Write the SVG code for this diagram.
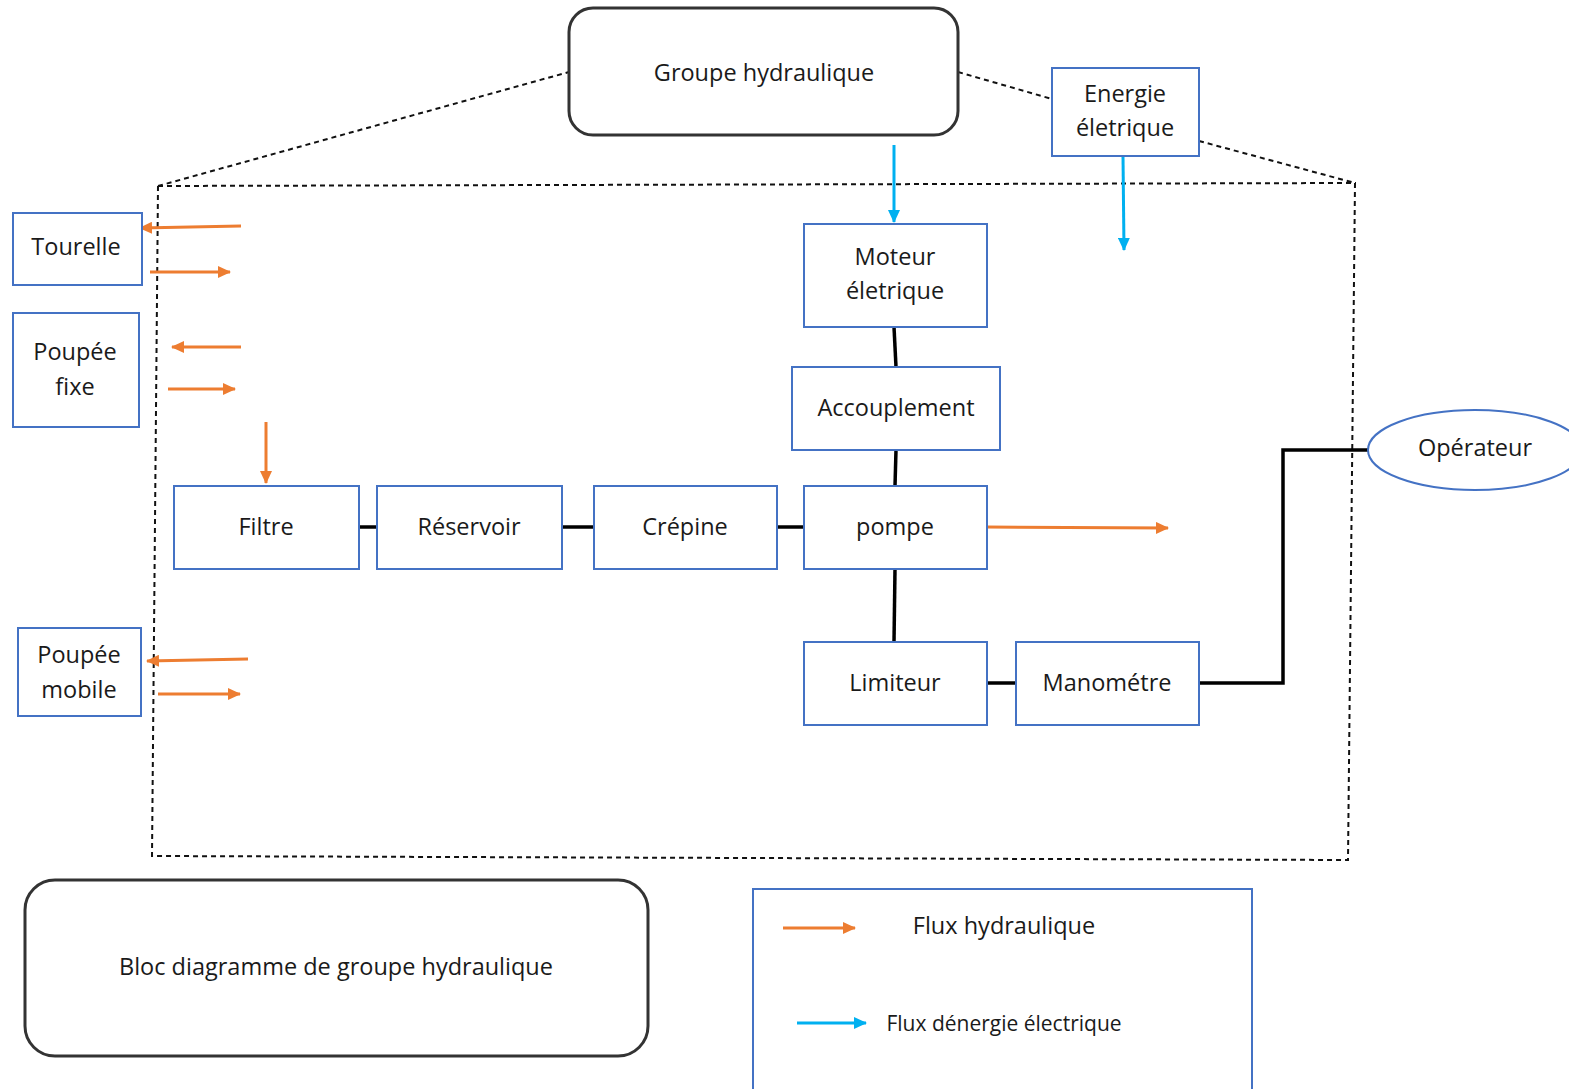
<svg xmlns="http://www.w3.org/2000/svg" width="1569" height="1089" viewBox="0 0 1569 1089">
  <style>
    text { font-family: "Open Sans", "Noto Sans", "DejaVu Sans", sans-serif; font-size: 23.5px; fill: #1a1a1a; text-anchor: middle; dominant-baseline: central; }
    .small { font-size: 21px; }
    .box { fill: #fff; stroke: #4472C4; stroke-width: 2; }
    .rbox { fill: #fff; stroke: #333; stroke-width: 3; }
    .dash { fill: none; stroke: #111; stroke-width: 2; stroke-dasharray: 5 4; }
    .link { fill: none; stroke: #000; stroke-width: 3.5; }
    .hyd { fill: none; stroke: #ED7D31; stroke-width: 3; marker-end: url(#ah-orange); }
    .elec { fill: none; stroke: #00B0F0; stroke-width: 3; marker-end: url(#ah-blue); }
  </style>
  <defs>
    <marker id="ah-orange" markerUnits="userSpaceOnUse" markerWidth="14" markerHeight="12" refX="12" refY="6" orient="auto">
      <path d="M0,0 L13,6 L0,12 Z" fill="#ED7D31"/>
    </marker>
    <marker id="ah-blue" markerUnits="userSpaceOnUse" markerWidth="14" markerHeight="12" refX="12" refY="6" orient="auto">
      <path d="M0,0 L13,6 L0,12 Z" fill="#00B0F0"/>
    </marker>
  </defs>

  <rect width="1569" height="1089" fill="#fff"/>

  <!-- system boundary and projection lines -->
  <g id="boundary">
    <polygon class="dash" points="158,186 1355,183 1348,860 152,856"/>
    <line class="dash" x1="158" y1="186" x2="569" y2="72"/>
    <line class="dash" x1="958" y1="72" x2="1052" y2="99"/>
    <line class="dash" x1="1199" y1="141" x2="1355" y2="183"/>
  </g>

  <!-- connectors -->
  <g id="connectors">
    <!-- mechanical / hydraulic chain -->
    <line class="link" x1="894" y1="327" x2="896" y2="367"/>
    <line class="link" x1="896" y1="450" x2="895" y2="486"/>
    <line class="link" x1="895" y1="569" x2="894" y2="642"/>
    <line class="link" x1="359" y1="527" x2="377" y2="527"/>
    <line class="link" x1="562" y1="527" x2="594" y2="527"/>
    <line class="link" x1="777" y1="527" x2="804" y2="527"/>
    <line class="link" x1="987" y1="683" x2="1016" y2="683"/>
    <polyline class="link" points="1199,683 1283,683 1283,450 1368,450"/>

    <!-- electric energy flows -->
    <line class="elec" x1="894" y1="145" x2="894" y2="222"/>
    <line class="elec" x1="1123" y1="156" x2="1124" y2="250"/>

    <!-- hydraulic flows -->
    <line class="hyd" x1="987" y1="527" x2="1168" y2="528"/>
    <line class="hyd" x1="241" y1="226" x2="140" y2="228"/>
    <line class="hyd" x1="150" y1="272" x2="230" y2="272"/>
    <line class="hyd" x1="241" y1="347" x2="172" y2="347"/>
    <line class="hyd" x1="168" y1="389" x2="235" y2="389"/>
    <line class="hyd" x1="266" y1="422" x2="266" y2="483"/>
    <line class="hyd" x1="248" y1="659" x2="147" y2="661"/>
    <line class="hyd" x1="158" y1="694" x2="240" y2="694"/>
  </g>

  <g id="groupe-hydraulique">
    <rect class="rbox" x="569" y="8" width="389" height="127" rx="24"/>
    <text x="764" y="72">Groupe hydraulique</text>
  </g>

  <g id="energie-electrique">
    <rect class="box" x="1052" y="68" width="147" height="88"/>
    <text x="1125" y="93">Energie</text>
    <text x="1125" y="127">életrique</text>
  </g>

  <g id="moteur">
    <rect class="box" x="804" y="224" width="183" height="103"/>
    <text x="895" y="256">Moteur</text>
    <text x="895" y="290">életrique</text>
  </g>

  <g id="accouplement">
    <rect class="box" x="792" y="367" width="208" height="83"/>
    <text x="896" y="407">Accouplement</text>
  </g>

  <g id="pompe">
    <rect class="box" x="804" y="486" width="183" height="83"/>
    <text x="895" y="526">pompe</text>
  </g>

  <g id="filtre">
    <rect class="box" x="174" y="486" width="185" height="83"/>
    <text x="266" y="526">Filtre</text>
  </g>

  <g id="reservoir">
    <rect class="box" x="377" y="486" width="185" height="83"/>
    <text x="469" y="526">Réservoir</text>
  </g>

  <g id="crepine">
    <rect class="box" x="594" y="486" width="183" height="83"/>
    <text x="685" y="526">Crépine</text>
  </g>

  <g id="limiteur">
    <rect class="box" x="804" y="642" width="183" height="83"/>
    <text x="895" y="682">Limiteur</text>
  </g>

  <g id="manometre">
    <rect class="box" x="1016" y="642" width="183" height="83"/>
    <text x="1107" y="682">Manométre</text>
  </g>

  <g id="operateur">
    <ellipse cx="1475" cy="450" rx="107" ry="40" fill="#fff" stroke="#4472C4" stroke-width="2"/>
    <text x="1475" y="447">Opérateur</text>
  </g>

  <g id="tourelle">
    <rect class="box" x="13" y="213" width="129" height="72"/>
    <text x="76" y="246">Tourelle</text>
  </g>

  <g id="poupee-fixe">
    <rect class="box" x="13" y="313" width="126" height="114"/>
    <text x="75" y="351">Poupée</text>
    <text x="75" y="386">fixe</text>
  </g>

  <g id="poupee-mobile">
    <rect class="box" x="18" y="628" width="123" height="88"/>
    <text x="79" y="654">Poupée</text>
    <text x="79" y="689">mobile</text>
  </g>

  <g id="titre">
    <rect class="rbox" x="25" y="880" width="623" height="176" rx="30"/>
    <text x="336" y="966">Bloc diagramme de groupe hydraulique</text>
  </g>

  <g id="legende">
    <rect class="box" x="753" y="889" width="499" height="210"/>
    <line class="hyd" x1="783" y1="928" x2="855" y2="928"/>
    <text x="1004" y="925">Flux hydraulique</text>
    <line class="elec" x1="797" y1="1023" x2="866" y2="1023"/>
    <text class="small" x="1004" y="1023">Flux dénergie électrique</text>
  </g>
</svg>
